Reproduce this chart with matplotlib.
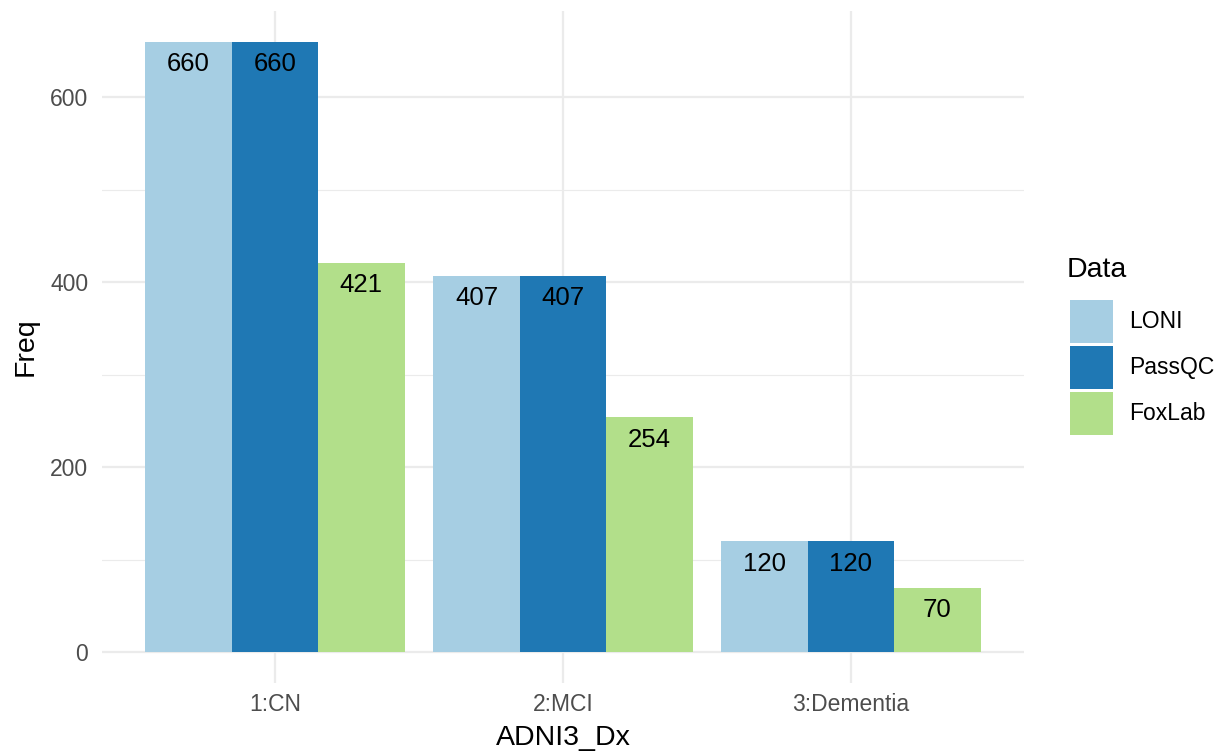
import numpy as np
import matplotlib
matplotlib.use("Agg")
import matplotlib.pyplot as plt
from matplotlib.patches import Patch

plt.rcParams['font.family'] = ['Liberation Sans', 'DejaVu Sans']

# data
categories = ["1:CN", "2:MCI", "3:Dementia"]
series_names = ["LONI", "PassQC", "FoxLab"]
loni = [660, 407, 120]
passqc = [660, 407, 120]
foxlab = [421, 254, 70]
colors = ["#A6CEE3", "#1F78B4", "#B2DF8A"]

series = [loni, passqc, foxlab]

fig = plt.figure(figsize=(12.26, 7.55), dpi=100)
ax = fig.add_axes([0.0833, 0.0954, 0.835 - 0.0833, 0.9854 - 0.0954])

x = np.arange(len(categories))
w = 0.3
for i, (vals, c) in enumerate(zip(series, colors)):
    pos = x + (i - 1) * w
    ax.bar(pos, vals, width=w, color=c, zorder=2)
    for px, v in zip(pos, vals):
        ax.annotate(str(v), (px, v), xytext=(0, -7.5), textcoords="offset points",
                    ha="center", va="top", fontsize=18.5, color="black", zorder=3)

ax.set_xlim(-0.6, 2.6)
ax.set_ylim(-33, 693)
ax.set_xticks(x)
ax.set_xticklabels(categories)
ax.set_yticks([0, 200, 400, 600])
ax.set_yticks([100, 300, 500], minor=True)

ax.grid(which="major", color="#EBEBEB", linewidth=1.6, zorder=0)
ax.grid(which="minor", axis="y", color="#EBEBEB", linewidth=0.8, zorder=0)
ax.set_axisbelow(True)
for s in ax.spines.values():
    s.set_visible(False)
ax.tick_params(which="both", length=0, labelsize=16.5, labelcolor="#4D4D4D")
ax.tick_params(axis="x", pad=7)
ax.tick_params(axis="y", pad=10)

ax.set_xlabel("ADNI3_Dx", fontsize=20.5, labelpad=7)
ax.set_ylabel("Freq", fontsize=20.5, labelpad=8)

# legend: title as separate text, keys below
fig.text(1067 / 1226, 1 - 270 / 755, "Data", fontsize=20.5, ha="left", va="center")
handles = [Patch(facecolor=c, edgecolor="none") for c in colors]
leg = fig.legend(handles, series_names, loc="upper left",
                 bbox_to_anchor=(1070 / 1226, 1 - 300 / 755), frameon=False,
                 fontsize=16.5, handlelength=1.88, handleheight=2.51,
                 handletextpad=0.72, labelspacing=0.13,
                 borderpad=0, borderaxespad=0)

fig.savefig("out.png", dpi=100)
